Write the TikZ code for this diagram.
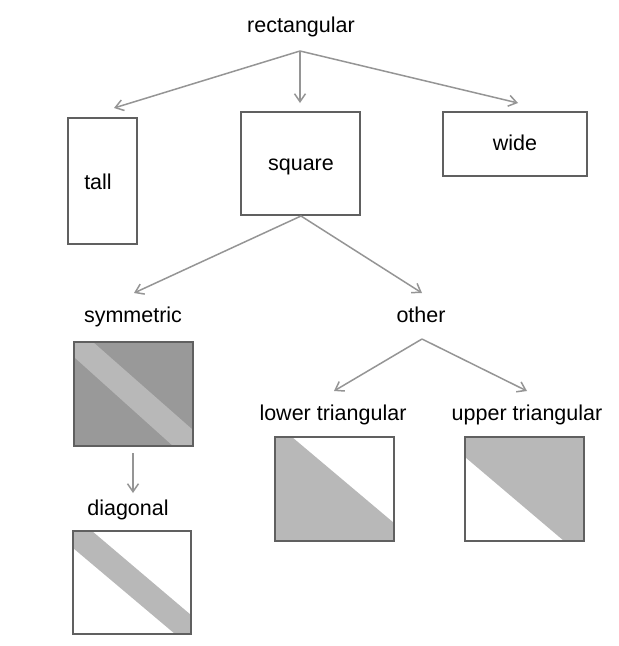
\documentclass[tikz,border=0pt]{standalone}
\usepackage{fontspec}
\setmainfont{Liberation Sans}
\usetikzlibrary{arrows.meta}
\definecolor{arr}{HTML}{959595}
\definecolor{edge}{HTML}{606060}
\definecolor{darkfill}{HTML}{999999}
\definecolor{lightfill}{HTML}{B8B8B8}
\begin{document}
\begin{tikzpicture}[x=1pt,y=-1pt,
  lbl/.style={inner sep=0pt,anchor=base,font=\fontsize{21.5}{25}\selectfont},
  box/.style={draw=edge,line width=1.3pt,fill=none},
  conn/.style={draw=arr,line width=1.5pt,-{Straight Barb[length=8pt,width=11pt,line width=1.5pt]}}]
\useasboundingbox (0,0) rectangle (619,646);
% labels
\node[lbl] (rect) at (301,32) {rectangular};
\node[lbl] (tall) at (98,189) {tall};
\node[lbl] (square) at (301,170) {square};
\node[lbl] (wide) at (515,150) {wide};
\node[lbl] (sym) at (133,322) {symmetric};
\node[lbl] (other) at (421,322) {other};
\node[lbl] (diag) at (128,515) {diagonal};
\node[lbl] (lower) at (333,420) {lower triangular};
\node[lbl] (upper) at (527,420) {upper triangular};
% boxes
\draw[box] (68,118) rectangle (137,244);
\draw[box] (241,112) rectangle (360,215);
\draw[box] (443,112) rectangle (587,176);
% symmetric
\fill[darkfill] (74,342) rectangle (193,446);
\fill[lightfill] (74,342) -- (93,342) -- (193,430) -- (193,446) -- (173,446) -- (74,357) -- cycle;
\draw[box] (74,342) rectangle (193,446);
% diagonal
\fill[lightfill] (73,531) -- (92,531) -- (191,615) -- (191,634) -- (175,634) -- (73,548) -- cycle;
\draw[box] (73,531) rectangle (191,634);
% lower triangular
\fill[lightfill] (275,437) -- (292,437) -- (394,523) -- (394,541) -- (275,541) -- cycle;
\draw[box] (275,437) rectangle (394,541);
% upper triangular
\fill[lightfill] (465,437) -- (584,437) -- (584,541) -- (564,541) -- (465,457) -- cycle;
\draw[box] (465,437) rectangle (584,541);
% connector end points
\coordinate (rectout) at (300,51);
\coordinate (tallin) at (114,108);
\coordinate (squarein) at (300,103);
\coordinate (widein) at (518,103);
\coordinate (squareout) at (301,216);
\coordinate (symin) at (134,293);
\coordinate (otherin) at (422,293);
\coordinate (symout) at (133,453);
\coordinate (diagin) at (133,493);
\coordinate (otherout) at (422,339);
\coordinate (lowerin) at (334,391);
\coordinate (upperin) at (527,391);
% connectors
\draw[conn] (rectout) -- (tallin);
\draw[conn] (rectout) -- (squarein);
\draw[conn] (rectout) -- (widein);
\draw[conn] (squareout) -- (symin);
\draw[conn] (squareout) -- (otherin);
\draw[conn] (symout) -- (diagin);
\draw[conn] (otherout) -- (lowerin);
\draw[conn] (otherout) -- (upperin);
\end{tikzpicture}
\end{document}
